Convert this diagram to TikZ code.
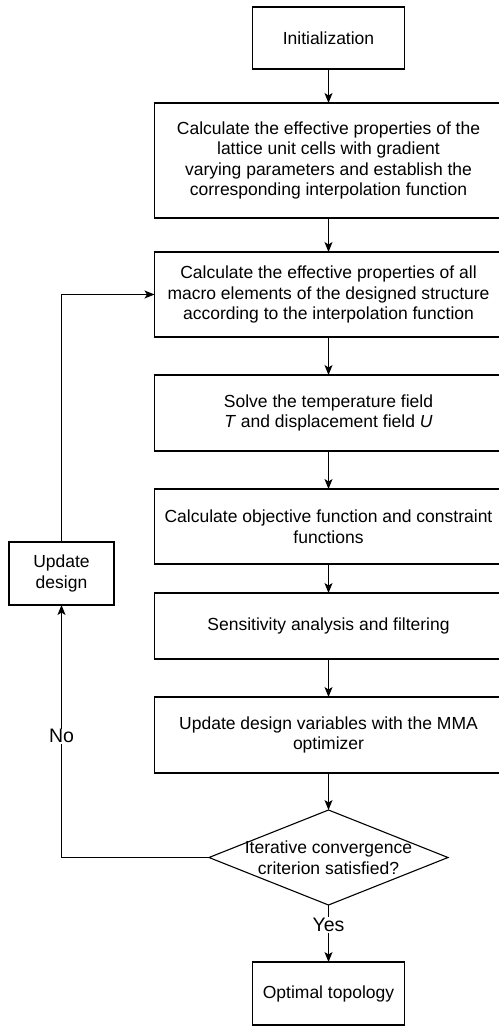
\documentclass[tikz,border=0pt]{standalone}
\usepackage{fontspec}
\setmainfont{Liberation Sans}
\usepackage{tikz}
\usetikzlibrary{positioning,arrows.meta,shapes.geometric}
\tikzset{
  mainbox/.style ={rectangle,draw,line width=1.1pt,outer sep=0pt,align=center,
                   minimum width=348pt,inner sep=2pt},
  smallbox/.style={rectangle,draw,line width=1.1pt,outer sep=0pt,align=center,
                   minimum width=152pt,minimum height=62pt,inner sep=2pt},
  decision/.style={diamond,draw,line width=1.1pt,outer sep=0pt,inner sep=0pt,
                   minimum width=239pt,minimum height=95pt},
  lbl/.style     ={fill=white,inner sep=1pt,font=\fontsize{19.5}{22}\selectfont},
  flow/.style    ={-{Stealth[length=10pt,width=8pt,inset=2.5pt]},line width=1.1pt},
}

\begin{document}
\begin{tikzpicture}[x=1pt,y=-1pt,font=\fontsize{17.5}{20.5}\selectfont]
  \useasboundingbox (0,0) rectangle (498,1027);
  \node[smallbox] (init) at (328.5,38) {Initialization};
  \node[mainbox,minimum height=115pt,below=34pt of init] (interp) {Calculate the effective properties of the\\lattice unit cells with gradient\\varying parameters and establish the\\corresponding interpolation function};
  \node[mainbox,minimum height=85pt,below=34pt of interp] (macro) {Calculate the effective properties of all\\macro elements of the designed structure\\according to the interpolation function};
  \node[mainbox,minimum height=76pt,below=38pt of macro] (solve) {Solve the temperature field\\\textit{T} and displacement field \textit{U}};
  \node[mainbox,minimum height=75pt,below=38pt of solve] (objf) {Calculate objective function and constraint\\functions};
  \node[mainbox,minimum height=66pt,below=29pt of objf] (sens) {Sensitivity analysis and filtering};
  \node[mainbox,minimum height=76pt,below=38pt of sens] (mma) {Update design variables with the MMA\\optimizer};
  \node[decision,below=37pt of mma] (conv) {};
  \node[align=center] (convtxt) at (conv.center) {Iterative convergence\\criterion satisfied?};
  \node[smallbox,minimum height=63pt,below=57pt of conv] (opt) {Optimal topology};
  \node[smallbox,minimum width=105pt,minimum height=63pt] (upd) at (61.5,573.5) {Update\\design};
  % main chain
  \foreach \a/\b in {init/interp,interp/macro,macro/solve,solve/objf,objf/sens,sens/mma,mma/conv}
    \draw[flow] (\a) -- (\b);
  \draw[flow] (conv) -- node[lbl,pos=0.35] {Yes} (opt);
  % loop back
  \draw[flow] (conv.west) -| node[lbl,pos=0.74] {No} (upd.south);
  \draw[flow] (upd.north) |- (macro.west);
\end{tikzpicture}
\end{document}
